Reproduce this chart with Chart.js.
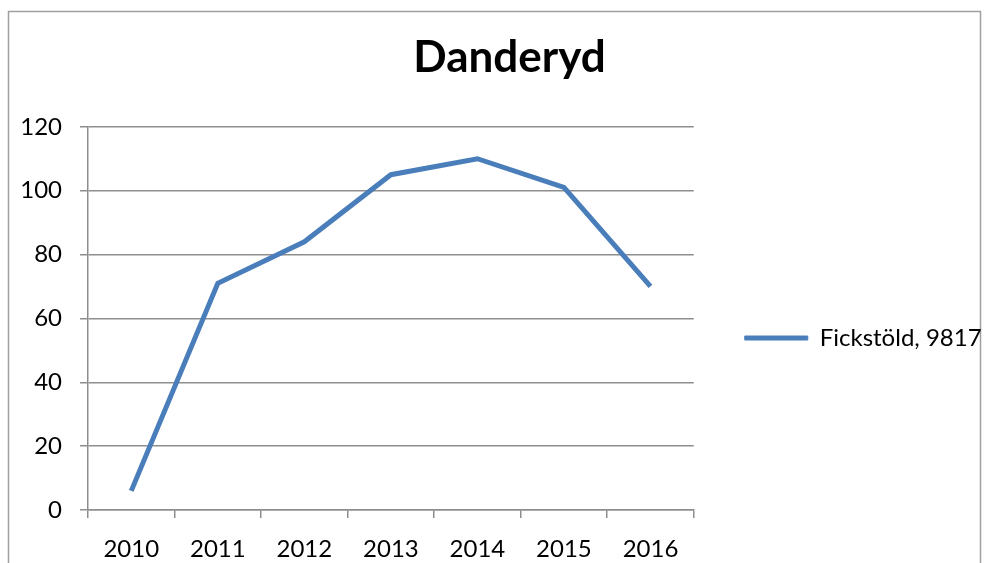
<!DOCTYPE html>
<html>
<head>
<meta charset="utf-8">
<script src="https://cdn.jsdelivr.net/npm/chart.js@4/dist/chart.umd.min.js"></script>
<style>
  html, body { margin: 0; padding: 0; background: #fff; }
  #wrap { width: 994px; height: 563px; }
</style>
</head>
<body>
<div id="wrap"><canvas id="danderydChart"></canvas></div>
<script>
const years = ['2010', '2011', '2012', '2013', '2014', '2015', '2016'];
const fickstold = [6, 71, 84, 105, 110, 101, 70];
const seriesName = 'Fickstöld, 9817';
const chartTitle = 'Danderyd';
const yMin = 0;
const yMax = 120;
const yStep = 20;

const lineBlue = '#4a7ebb';
const gridGray = '#8e8e8e';
const fontName = 'Lato, "Open Sans", sans-serif';

// outer frame of the chart object + nudge legend/title to where the original sits
const framePlugin = {
  id: 'frame',
  afterLayout(chart) {
    const lg = chart.legend;
    lg.left += 41; lg.right = chart.width;
    lg.top += 58; lg.bottom += 58;
    const tb = chart.titleBlock;
    tb.left += 47; tb.right += 47;
  },
  beforeDraw(chart) {
    const ctx = chart.ctx;
    ctx.save();
    ctx.fillStyle = '#fff';
    ctx.fillRect(0, 0, chart.width, chart.height);
    ctx.strokeStyle = '#a0a0a0';
    ctx.lineWidth = 1.5;
    ctx.strokeRect(8.5, 11.5, 972, 600);
    ctx.restore();
  }
};

let danderydChart = new Chart('danderydChart', {
  type: 'line',
  data: {
    labels: years,
    datasets: [{
      label: seriesName,
      data: fickstold,
      borderColor: lineBlue,
      backgroundColor: lineBlue,
      borderWidth: 5,
      pointRadius: 0,
      tension: 0
    }]
  },
  options: {
    responsive: true,
    maintainAspectRatio: false,
    animation: false,
    layout: {
      padding: { left: 0, right: 69, top: 0, bottom: 3 }
    },
    scales: {
      x: {
        offset: true,
        afterFit(scale) { scale.height = 50; },
        grid: {
          offset: true,
          drawOnChartArea: false,
          drawTicks: true,
          tickLength: 8,
          color: gridGray,
          lineWidth: 1.5
        },
        border: { color: gridGray, width: 1.5 },
        ticks: {
          color: '#000',
          padding: 17,
          maxRotation: 0,
          font: { family: fontName, size: 24 }
        }
      },
      y: {
        min: yMin,
        max: yMax,
        afterFit(scale) { scale.width = 88; },
        grid: {
          color: gridGray,
          lineWidth: 1.5,
          tickLength: 8
        },
        border: { color: gridGray, width: 1.5 },
        ticks: {
          stepSize: yStep,
          color: '#000',
          padding: 18,
          font: { family: fontName, size: 24 }
        }
      }
    },
    plugins: {
      title: {
        display: true,
        text: chartTitle,
        color: '#000',
        font: { family: fontName, size: 44, weight: 'bold' },
        padding: { top: 31, bottom: 43 }
      },
      legend: {
        position: 'right',
        labels: {
          boxWidth: 63,
          boxHeight: 4,
          padding: 10,
          color: '#000',
          font: { family: fontName, size: 24 },
          generateLabels(chart) {
            const items = Chart.defaults.plugins.legend.labels.generateLabels(chart);
            items.forEach(it => {
              it.lineWidth = 1;
              it.fillStyle = lineBlue;
              it.strokeStyle = lineBlue;
            });
            return items;
          }
        }
      },
      tooltip: { enabled: false }
    }
  },
  plugins: [framePlugin]
});
</script>
</body>
</html>
